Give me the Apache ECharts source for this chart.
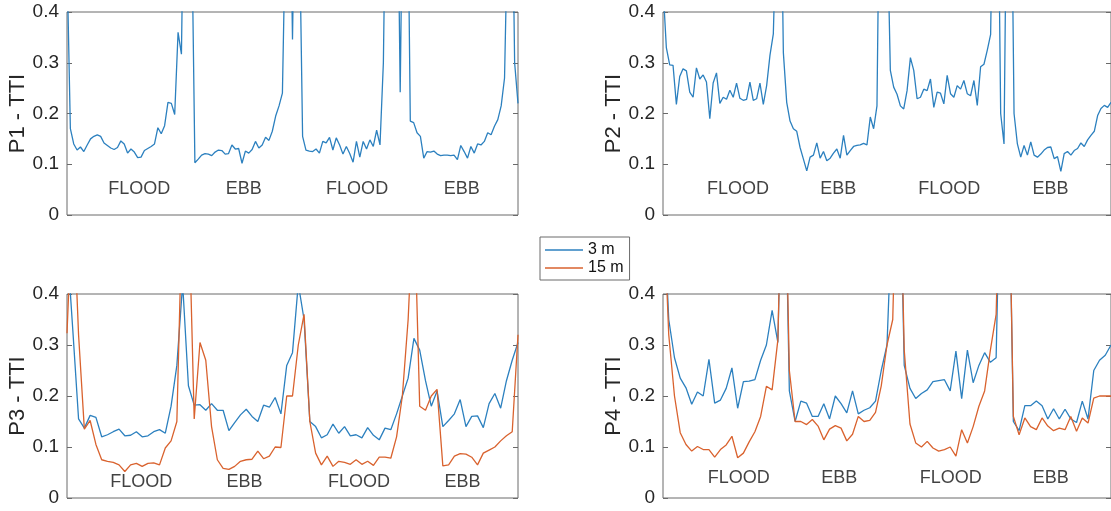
<!DOCTYPE html>
<html>
<head>
<meta charset="utf-8">
<script src="https://cdn.jsdelivr.net/npm/echarts@6/dist/echarts.min.js"></script>
<style>
  html, body { margin: 0; padding: 0; background: #fff; }
  #chart { width: 1111px; height: 511px; }
</style>
</head>
<body>
<div id="chart"></div>
<script>
// TTI time series at four stations over two tidal cycles (values above 0.4 run off the top of each panel)
const p1Depth3 = [
  0.5, 0.17, 0.14, 0.128, 0.134, 0.125, 0.138, 0.15, 0.155, 0.158,
  0.155, 0.142, 0.137, 0.132, 0.129, 0.133, 0.146, 0.14, 0.122, 0.13,
  0.124, 0.113, 0.114, 0.127, 0.131, 0.135, 0.14, 0.172, 0.16, 0.176,
  0.222, 0.22, 0.198, 0.36, 0.317, 0.8, 0.8, 0.6, 0.103, 0.11,
  0.118, 0.121, 0.12, 0.117, 0.124, 0.128, 0.127, 0.12, 0.121, 0.138,
  0.13, 0.131, 0.102, 0.126, 0.122, 0.129, 0.145, 0.132, 0.138, 0.153,
  0.147, 0.165, 0.195, 0.215, 0.24, 0.6, 0.8, 0.346, 0.8, 0.6,
  0.155, 0.128, 0.126, 0.125, 0.13, 0.122, 0.145, 0.142, 0.153, 0.128,
  0.152, 0.138, 0.12, 0.135, 0.121, 0.104, 0.145, 0.114, 0.145, 0.13,
  0.148, 0.135, 0.167, 0.138, 0.3, 0.8, 0.8, 0.8, 0.8, 0.242,
  0.8, 0.8, 0.185, 0.182, 0.162, 0.155, 0.112, 0.125, 0.124, 0.126,
  0.12, 0.117, 0.118, 0.118, 0.117, 0.118, 0.109, 0.137, 0.125, 0.112,
  0.135, 0.122, 0.14, 0.138, 0.145, 0.162, 0.158, 0.175, 0.188, 0.215,
  0.27, 0.6, 0.8, 0.3, 0.22
];

const p2Depth3 = [
  0.45, 0.33, 0.296, 0.295, 0.218, 0.273, 0.288, 0.284, 0.242, 0.232,
  0.29, 0.268, 0.276, 0.262, 0.19, 0.26, 0.28, 0.22, 0.232, 0.228,
  0.246, 0.232, 0.26, 0.23, 0.226, 0.228, 0.262, 0.226, 0.229, 0.26,
  0.218, 0.255, 0.315, 0.357, 0.6, 0.8, 0.32, 0.222, 0.185, 0.17,
  0.165, 0.133, 0.11, 0.087, 0.114, 0.118, 0.142, 0.112, 0.125, 0.107,
  0.112, 0.122, 0.13, 0.112, 0.157, 0.118, 0.127, 0.135, 0.137, 0.138,
  0.141, 0.138, 0.193, 0.17, 0.215, 0.8, 0.8, 0.6, 0.285, 0.252,
  0.238, 0.215, 0.209, 0.245, 0.31, 0.285, 0.229, 0.232, 0.248, 0.245,
  0.268, 0.212, 0.242, 0.24, 0.219, 0.275, 0.239, 0.232, 0.255, 0.248,
  0.265, 0.239, 0.235, 0.265, 0.216, 0.292, 0.297, 0.325, 0.356, 0.8,
  0.8, 0.2, 0.14, 0.8, 0.8, 0.2, 0.14, 0.114, 0.137, 0.118,
  0.144, 0.118, 0.114, 0.12, 0.128, 0.133, 0.134, 0.111, 0.115, 0.086,
  0.121, 0.125, 0.118, 0.127, 0.131, 0.142, 0.135, 0.148, 0.157, 0.165,
  0.196, 0.21, 0.216, 0.212, 0.222
];

const p3Depth3 = [
  0.5, 0.33, 0.155, 0.137, 0.162, 0.158, 0.12, 0.124, 0.13, 0.135,
  0.122, 0.123, 0.13, 0.12, 0.122, 0.13, 0.134, 0.127, 0.18, 0.26,
  0.42, 0.22, 0.182, 0.183, 0.172, 0.185, 0.172, 0.172, 0.132, 0.148,
  0.163, 0.174, 0.16, 0.15, 0.182, 0.178, 0.197, 0.165, 0.26, 0.285,
  0.42, 0.35, 0.15, 0.14, 0.118, 0.124, 0.145, 0.127, 0.14, 0.122,
  0.124, 0.118, 0.138, 0.123, 0.114, 0.137, 0.134, 0.165, 0.2, 0.235,
  0.313, 0.29, 0.23, 0.18, 0.21, 0.14, 0.152, 0.165, 0.193, 0.14,
  0.16, 0.161, 0.138, 0.185, 0.205, 0.176, 0.23, 0.27, 0.305
];

const p3Depth15 = [
  0.323, 0.6, 0.32, 0.135, 0.152, 0.105, 0.075, 0.072, 0.07, 0.065,
  0.052, 0.065, 0.068, 0.062, 0.068, 0.069, 0.065, 0.098, 0.112, 0.15,
  0.6, 0.6, 0.155, 0.305, 0.27, 0.14, 0.075, 0.058, 0.056, 0.062,
  0.072, 0.075, 0.076, 0.092, 0.077, 0.082, 0.1, 0.099, 0.2, 0.2,
  0.3, 0.36, 0.15, 0.088, 0.065, 0.082, 0.062, 0.072, 0.07, 0.066,
  0.075, 0.066, 0.072, 0.064, 0.08, 0.08, 0.078, 0.12, 0.2, 0.35,
  0.6, 0.18, 0.172, 0.2, 0.213, 0.063, 0.065, 0.082, 0.087, 0.086,
  0.08, 0.065, 0.088, 0.094, 0.1, 0.112, 0.122, 0.13, 0.32
];

const p4Depth3 = [
  0.6, 0.35, 0.275, 0.235, 0.216, 0.184, 0.208, 0.2, 0.272, 0.186,
  0.192, 0.215, 0.255, 0.176, 0.228, 0.229, 0.232, 0.27, 0.3, 0.368,
  0.305, 0.8, 0.21, 0.15, 0.19, 0.186, 0.16, 0.16, 0.185, 0.155,
  0.2, 0.185, 0.167, 0.21, 0.165, 0.172, 0.177, 0.19, 0.25, 0.3,
  0.6, 0.8, 0.26, 0.215, 0.195, 0.205, 0.212, 0.228, 0.23, 0.232,
  0.21, 0.288, 0.195, 0.29, 0.226, 0.26, 0.285, 0.266, 0.275, 0.8,
  0.8, 0.15, 0.132, 0.181, 0.181, 0.19, 0.181, 0.155, 0.175, 0.155,
  0.174, 0.155, 0.148, 0.19, 0.155, 0.25, 0.27, 0.28, 0.3
];

const p4Depth15 = [
  0.6, 0.32, 0.2, 0.128, 0.105, 0.092, 0.101, 0.095, 0.095, 0.08,
  0.095, 0.104, 0.121, 0.079, 0.088, 0.11, 0.13, 0.16, 0.219, 0.212,
  0.31, 0.8, 0.25, 0.15, 0.15, 0.144, 0.154, 0.141, 0.114, 0.135,
  0.142, 0.137, 0.112, 0.125, 0.16, 0.15, 0.152, 0.168, 0.22, 0.3,
  0.35, 0.8, 0.29, 0.145, 0.108, 0.1, 0.111, 0.098, 0.092, 0.095,
  0.1, 0.082, 0.134, 0.108, 0.14, 0.18, 0.21, 0.29, 0.36, 0.8,
  0.8, 0.16, 0.124, 0.157, 0.14, 0.134, 0.157, 0.141, 0.132, 0.137,
  0.134, 0.16, 0.131, 0.157, 0.147, 0.196, 0.2, 0.2, 0.2
];

// tidal phase annotations: sample position and height of each label
const phaseNames = ['FLOOD', 'EBB', 'FLOOD', 'EBB'];
const p1PhaseX = [21.5, 52.5, 86.2, 117.3];
const p2PhaseX = [22.4, 52.4, 85.6, 115.9];
const p3PhaseX = [12.85, 30.7, 50.5, 68.4];
const p4PhaseX = [13.2, 30.7, 50.1, 67.5];
const phaseY = [0.051, 0.051, 0.031, 0.039];

const axisTitles = ['P1 - TTI', 'P2 - TTI', 'P3 - TTI', 'P4 - TTI'];
const yTicks = { min: 0, max: 0.4, interval: 0.1 };
const seriesNames = ['3 m', '15 m'];

const FONT = 'Liberation Sans, Arial, Helvetica, sans-serif';
const BLUE = '#2c80bf';
const ORANGE = '#d9622e';
const FRAME = '#6a6a6a';

const panels = [
  { box: { left: 67, top: 12, width: 451, height: 203 }, shallow: p1Depth3, deep: null, phaseX: p1PhaseX },
  { box: { left: 663, top: 12, width: 451, height: 203 }, shallow: p2Depth3, deep: null, phaseX: p2PhaseX },
  { box: { left: 67, top: 294, width: 451, height: 204 }, shallow: p3Depth3, deep: p3Depth15, phaseX: p3PhaseX },
  { box: { left: 663, top: 294, width: 451, height: 204 }, shallow: p4Depth3, deep: p4Depth15, phaseX: p4PhaseX }
];

const grid = [], xAxis = [], yAxis = [], series = [];
panels.forEach((p, i) => {
  grid.push(Object.assign({ show: true, borderColor: FRAME, borderWidth: 1, backgroundColor: 'transparent' }, p.box));
  xAxis.push({ type: 'value', gridIndex: i, min: 0, max: p.shallow.length - 1, show: false });
  yAxis.push({
    type: 'value', gridIndex: i, position: 'left',
    min: yTicks.min, max: yTicks.max, interval: yTicks.interval,
    axisLine: { show: false },
    axisTick: { show: true, inside: true, length: 5, lineStyle: { color: FRAME } },
    axisLabel: { fontSize: 19, color: '#262626', fontFamily: FONT, margin: 8 },
    splitLine: { show: false },
    name: axisTitles[i], nameLocation: 'middle', nameGap: 38,
    nameTextStyle: { fontSize: 22, color: '#262626', fontFamily: FONT }
  });
  yAxis.push({
    type: 'value', gridIndex: i, position: 'right',
    min: yTicks.min, max: yTicks.max, interval: yTicks.interval,
    axisLine: { show: false },
    axisTick: { show: true, inside: true, length: 5, lineStyle: { color: FRAME } },
    axisLabel: { show: false },
    splitLine: { show: false }
  });
  series.push({
    type: 'line', name: seriesNames[0], xAxisIndex: i, yAxisIndex: 2 * i,
    data: p.shallow.map((v, k) => [k, v]),
    symbol: 'none', clip: true, z: 3,
    lineStyle: { width: 1.3, color: BLUE }, itemStyle: { color: BLUE }
  });
  if (p.deep) {
    series.push({
      type: 'line', name: seriesNames[1], xAxisIndex: i, yAxisIndex: 2 * i,
      data: p.deep.map((v, k) => [k, v]),
      symbol: 'none', clip: true, z: 4,
      lineStyle: { width: 1.3, color: ORANGE }, itemStyle: { color: ORANGE }
    });
  }
  series.push({
    type: 'scatter', name: 'phase', xAxisIndex: i, yAxisIndex: 2 * i,
    symbolSize: 1, itemStyle: { color: 'rgba(0,0,0,0)' }, silent: true, z: 5,
    data: p.phaseX.map((x, j) => ({ name: phaseNames[j], value: [x, phaseY[i]] })),
    label: { show: true, position: 'inside', formatter: '{b}', fontSize: 18, color: '#111', fontFamily: FONT }
  });
});

const chart = echarts.init(document.getElementById('chart'), null, { renderer: 'canvas' });
chart.setOption({
  animation: false,
  backgroundColor: '#fff',
  grid, xAxis, yAxis, series,
  legend: {
    data: seriesNames, orient: 'vertical', left: 540, top: 237,
    backgroundColor: '#fff', borderColor: FRAME, borderWidth: 1, borderRadius: 0,
    padding: [5, 6, 4, 5], itemGap: 2, itemWidth: 38, itemHeight: 1.5, icon: 'rect',
    textStyle: { fontSize: 16, lineHeight: 16, color: '#111', fontFamily: FONT }
  }
});
</script>
</body>
</html>
